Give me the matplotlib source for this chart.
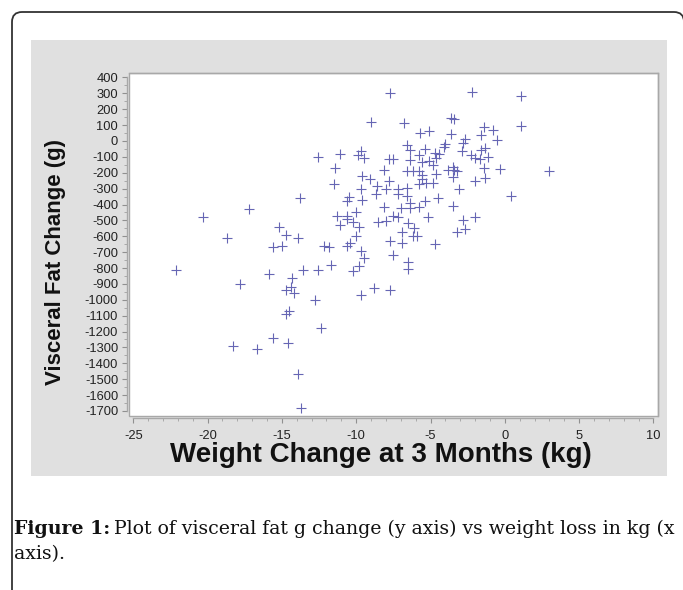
import matplotlib
matplotlib.use("Agg")
import matplotlib.pyplot as plt
from matplotlib.patches import Rectangle, FancyBboxPatch
from matplotlib.transforms import IdentityTransform
from matplotlib.ticker import MultipleLocator

plt.rcParams['axes.unicode_minus'] = False

# Weight change at 3 months (kg)
weight_change = [
    -22.1, -20.3, -18.7, -18.3, -17.8, -17.2, -16.7, -15.9, -15.6, -15.6,
    -15.2, -15.0, -14.7, -14.7, -14.7, -14.6, -14.5, -14.4, -14.3, -14.2,
    -13.9, -13.8, -13.9, -13.7, -13.6, -12.8, -12.6, -12.4, -12.2, -11.8,
    -11.7, -12.6, -11.5, -11.4, -11.3, -11.1, -11.1, -10.6, -10.6, -10.6,
    -10.6, -10.5, -10.4, -10.2, -10.2, -10.0, -10.0, -9.9, -9.8, -9.8,
    -9.7, -9.7, -9.7, -9.7, -9.6, -9.6, -9.5, -9.5, -9.0, -6.8,
    -7.7, -2.2, -3.65, -3.45, -5.7, -5.1, -3.6, -2.7, -2.8, -6.6,
    -6.4, -5.4, -4.0, -4.1, -4.7, -4.4, -2.9, -7.8, -7.5, -6.4,
    -5.8, -5.6, -5.1, -4.8, -4.6, -8.1, -6.6, -6.2, -5.8, -5.6,
    -5.6, -4.6, -3.8, -3.5, -3.4, -3.2, -3.5, -9.1, -7.8, -5.8,
    -5.3, -4.8, -3.1, -8.6, -8.0, -7.2, -6.6, -8.7, -7.2, -6.6,
    -5.4, -4.5, -8.1, -7.0, -6.4, -5.8, -3.5, -6.4, -7.5, -7.2,
    -8.5, -8.0, -6.5, -5.2, -2.8, -6.1, -2.0, -6.9, -6.2, -5.9,
    -3.2, -2.7, -7.7, -6.9, -4.7, -7.5, -6.5, -6.5, -8.8, -7.7,
    -1.4, -0.8, 1.1, 1.1, -1.6, -0.5, -2.3, -1.6, -1.3, -2.0,
    -1.7, -1.1, -1.4, -0.3, 3.0, -2.0, -1.3, 0.4,
]

# Visceral fat change (g)
fat_change = [
    -810, -480, -610, -1290, -900, -430, -1310, -840, -1240, -670,
    -540, -660, -590, -940, -1090, -1270, -1070, -920, -860, -960,
    -610, -360, -1470, -1680, -810, -1000, -810, -1180, -660, -670,
    -780, -100, -270, -170, -470, -80, -530, -470, -490, -660,
    -380, -350, -640, -510, -820, -450, -600, -90, -540, -790,
    -60, -690, -970, -300, -220, -370, -110, -740, 120, 115,
    305, 310, 145, 140, 50, 65, 45, 10, -10, -25,
    -55, -50, -20, -35, -75, -80, -65, -115, -115, -120,
    -90, -135, -125, -150, -110, -185, -190, -190, -190, -215,
    -240, -210, -180, -165, -185, -190, -225, -240, -250, -270,
    -265, -265, -300, -285, -305, -305, -295, -335, -335, -345,
    -380, -360, -415, -420, -420, -415, -410, -390, -470, -480,
    -510, -505, -515, -480, -495, -545, -480, -575, -600, -600,
    -575, -555, -630, -645, -650, -720, -760, -805, -925, -940,
    90, 70, 95, 285, 40, 5, -90, -55, -45, -110,
    -115, -100, -170, -175, -190, -255, -230, -345,
]

x_ticks = [-25, -20, -15, -10, -5, 0, 5, 10]
y_ticks = list(range(-1700, 401, 100))

W, H = 683, 590
fig = plt.figure(figsize=(W / 100, H / 100), dpi=100)
fig.patch.set_facecolor("white")

# gray panel
fig.patches.append(Rectangle((31 / W, 1 - 476 / H), (667 - 31) / W, (476 - 40) / H,
                             transform=fig.transFigure, facecolor="#e0e0e0",
                             edgecolor="none", zorder=-5))
# rounded outer border
fig.patches.append(FancyBboxPatch((12, -60), 672, H - 12 + 60,
                                  boxstyle="round,pad=0,rounding_size=10",
                                  transform=IdentityTransform(), facecolor="none",
                                  edgecolor="#333333", linewidth=1.3, zorder=-4))

ax = fig.add_axes([129.3 / W, 1 - 415.7 / H, (658.3 - 129.3) / W, (415.7 - 72.7) / H])
ax.set_facecolor("white")
ax.plot(weight_change, fat_change, linestyle="none", marker="+", markersize=6.5,
        markeredgewidth=0.8, color="#6666b4")

ax.set_xlim(-25.27, 10.33)
ax.set_ylim(-1730, 430)
ax.set_xticks(x_ticks)
ax.set_yticks(y_ticks)
ax.set_xticklabels([str(v) for v in x_ticks])
ax.set_yticklabels([str(v) for v in y_ticks])
ax.xaxis.set_minor_locator(MultipleLocator(1))
ax.yaxis.set_minor_locator(MultipleLocator(50))

frame_c = "#a8a8a8"
for s in ["top", "right"]:
    ax.spines[s].set_color(frame_c)
    ax.spines[s].set_linewidth(1.0)
for s in ["left", "bottom"]:
    ax.spines[s].set_color(frame_c)
    ax.spines[s].set_linewidth(1.0)
    ax.spines[s].set_position(("outward", 1.5))
ax.spines["bottom"].set_bounds(-25, 10)
ax.spines["left"].set_bounds(-1700, 400)
ax.add_patch(Rectangle((0, 0), 1, 1, transform=ax.transAxes, fill=False,
                       edgecolor=frame_c, linewidth=1.0, zorder=3, clip_on=False))

tick_font = dict(family=["Liberation Sans", "DejaVu Sans"], size=9.3)
ax.tick_params(axis="both", which="major", direction="out", length=3.5, width=0.8,
               color="#909090", labelcolor="#222222")
ax.tick_params(axis="both", which="minor", direction="out", length=2, width=0.6,
               color="#a0a0a0")
ax.tick_params(axis="y", which="major", pad=3)
ax.tick_params(axis="x", which="major", pad=5)
for lab in ax.get_xticklabels() + ax.get_yticklabels():
    lab.set_fontfamily(tick_font["family"])
    lab.set_fontsize(tick_font["size"])

fig.text(55 / W, 1 - 262 / H, "Visceral Fat Change (g)", rotation=90, ha="center",
         va="center", fontsize=16, fontweight="bold",
         family=["Liberation Sans", "DejaVu Sans"], color="#111111")
fig.text(380.5 / W, 1 - 462 / H, "Weight Change at 3 Months (kg)", ha="center",
         va="baseline", fontsize=20, fontweight="bold",
         family=["Liberation Sans", "DejaVu Sans"], color="#111111")

# caption
cap_font = ["DejaVu Serif"]
cap_size = 13.6
t1 = fig.text(14 / W, 1 - 534 / H, "Figure 1:", ha="left", va="baseline",
              fontsize=cap_size, fontweight="bold", family=cap_font, color="#111111")
fig.canvas.draw()
bb = t1.get_window_extent(renderer=fig.canvas.get_renderer())
fig.text(bb.x1 / W + 4 / W, 1 - 534 / H,
         "Plot of visceral fat g change (y axis) vs weight loss in kg (x",
         ha="left", va="baseline", fontsize=cap_size, family=cap_font, color="#111111")
fig.text(14 / W, 1 - 559 / H, "axis).", ha="left", va="baseline",
         fontsize=cap_size, family=cap_font, color="#111111")

fig.savefig("out.png", dpi=100)
